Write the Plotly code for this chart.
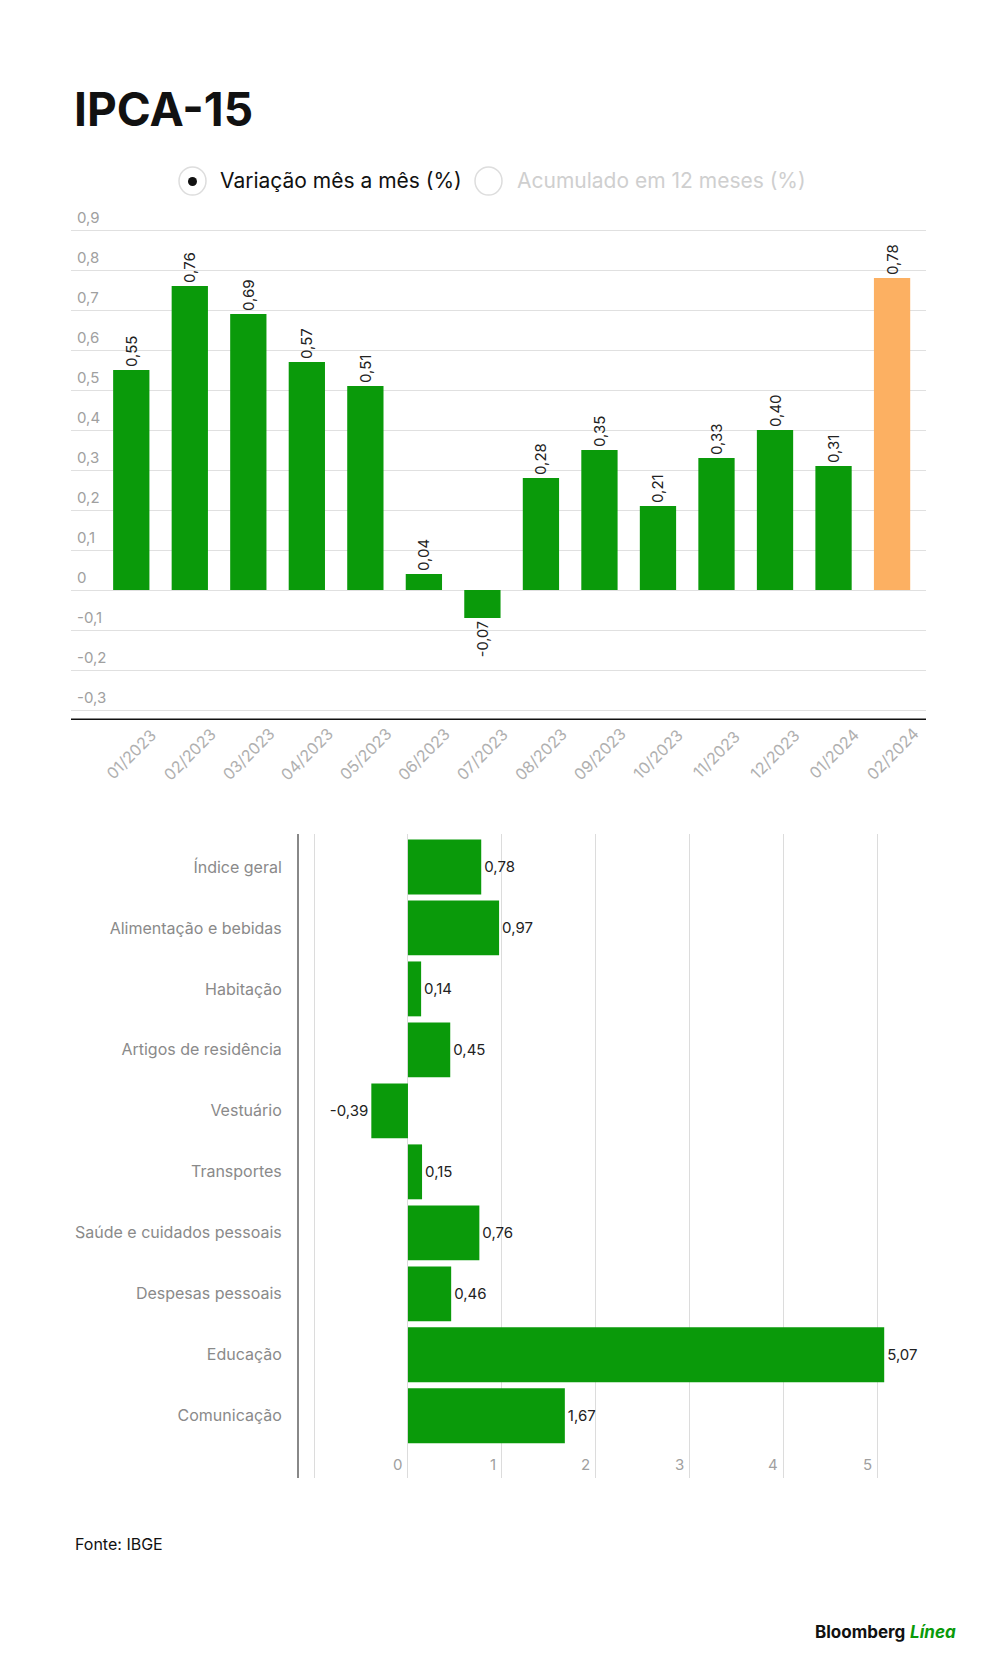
import plotly.graph_objects as go

meses = ["01/2023", "02/2023", "03/2023", "04/2023", "05/2023", "06/2023", "07/2023",
         "08/2023", "09/2023", "10/2023", "11/2023", "12/2023", "01/2024", "02/2024"]
variacao = [0.55, 0.76, 0.69, 0.57, 0.51, 0.04, -0.07, 0.28, 0.35, 0.21, 0.33, 0.40, 0.31, 0.78]

grupos = ["Índice geral", "Alimentação e bebidas", "Habitação", "Artigos de residência",
          "Vestuário", "Transportes", "Saúde e cuidados pessoais", "Despesas pessoais",
          "Educação", "Comunicação"]
grupo_var = [0.78, 0.97, 0.14, 0.45, -0.39, 0.15, 0.76, 0.46, 5.07, 1.67]

y_ticks = [0.9, 0.8, 0.7, 0.6, 0.5, 0.4, 0.3, 0.2, 0.1, 0, -0.1, -0.2, -0.3]
x_ticks = [0, 1, 2, 3, 4, 5]

GREEN = "#0a9a0a"
ORANGE = "#fcb062"
GRAY = "#a0a0a0"
H = 1674
DX = -0.008  # small global nudge (paper units)
DY = -6      # px


def br(v):
    return f"{v:.2f}".replace(".", ",")


def py(px):
    return 1 - (px + DY) / H


def ydom(top_px, bot_px):
    return [py(bot_px), py(top_px)]


fig = go.Figure()

colors = [GREEN] * (len(meses) - 1) + [ORANGE]
fig.add_trace(go.Bar(
    x=list(range(len(meses))), y=variacao, marker=dict(color=colors, line=dict(width=0)),
    text=[br(v) for v in variacao], textposition="outside", textangle=-90,
    textfont=dict(size=15, color="#222"), cliponaxis=False, width=0.62,
    xaxis="x", yaxis="y", hoverinfo="skip",
))

fig.add_trace(go.Bar(
    y=list(range(len(grupos))), x=grupo_var, orientation="h",
    marker=dict(color=GREEN, line=dict(width=0)),
    text=[br(v) for v in grupo_var], textposition="outside",
    textfont=dict(size=15, color="#222"), cliponaxis=False, width=0.9,
    xaxis="x2", yaxis="y2", hoverinfo="skip",
))

annotations = []
for v in y_ticks:
    lab = "0" if v == 0 else f"{v:.1f}".replace(".", ",")
    annotations.append(dict(x=0.075 + DX, y=v, xref="paper", yref="y", text=lab, showarrow=False,
                            xanchor="left", yanchor="bottom", yshift=1,
                            font=dict(size=15, color=GRAY)))
for i, m in enumerate(meses):
    annotations.append(dict(x=i, y=-0.325, xref="x", yref="y", text=m, showarrow=False,
                            textangle=-45, xanchor="center", yanchor="middle", yshift=-34,
                            font=dict(size=16, color="#b0b0b0")))
for v in x_ticks:
    annotations.append(dict(x=v, y=9.8, xref="x2", yref="y2", text=str(v), showarrow=False,
                            xanchor="right", xshift=-4, font=dict(size=15, color=GRAY)))

annotations += [
    dict(x=0.072 + DX, y=py(107), xref="paper", yref="paper", text="<b>IPCA-15</b>", showarrow=False,
         xanchor="left", yanchor="middle", font=dict(size=46, color="#111", family="Inter")),
    dict(x=0.218 + DX, y=py(179), xref="paper", yref="paper", text="Variação mês a mês (%)", showarrow=False,
         xanchor="left", yanchor="middle", font=dict(size=21, color="#111")),
    dict(x=0.515 + DX, y=py(179), xref="paper", yref="paper", text="Acumulado em 12 meses (%)", showarrow=False,
         xanchor="left", yanchor="middle", font=dict(size=21, color="#cfcfcf")),
    dict(x=0.073 + DX, y=py(1542), xref="paper", yref="paper", text="Fonte: IBGE", showarrow=False,
         xanchor="left", yanchor="middle", font=dict(size=16, color="#111")),
    dict(x=0.958 + DX, y=py(1630), xref="paper", yref="paper",
         text="<b>Bloomberg</b> <b><i><span style='color:#0a9a0a'>Línea</span></i></b>", showarrow=False,
         xanchor="right", yanchor="middle", font=dict(size=17, color="#111")),
]

shapes = [
    dict(type="circle", xref="paper", yref="paper", x0=0.179 + DX, x1=0.206 + DX,
         y0=py(193), y1=py(165), line=dict(color="#ddd", width=1.5), fillcolor="white"),
    dict(type="circle", xref="paper", yref="paper", x0=0.188 + DX, x1=0.197 + DX,
         y0=py(184), y1=py(175), line=dict(width=0), fillcolor="#111"),
    dict(type="circle", xref="paper", yref="paper", x0=0.475 + DX, x1=0.502 + DX,
         y0=py(193), y1=py(165), line=dict(color="#ddd", width=1.5), fillcolor="white"),
    dict(type="line", xref="paper", yref="y", x0=0.071 + DX, x1=0.926 + DX, y0=-0.325, y1=-0.325,
         line=dict(color="#111", width=3)),
]

fig.update_layout(
    width=1000, height=H, margin=dict(l=0, r=0, t=0, b=0),
    paper_bgcolor="white", plot_bgcolor="white", showlegend=False,
    font=dict(family="Inter", color="#222"),
    annotations=annotations, shapes=shapes,
    xaxis=dict(domain=[0.071 + DX, 0.926 + DX], range=[-1.03, 13.58], showticklabels=False,
               showgrid=False, zeroline=False, fixedrange=True),
    yaxis=dict(domain=ydom(220, 718), range=[-0.325, 0.92], tickvals=y_ticks,
               showticklabels=False, gridcolor="#e0e0e0", gridwidth=1, zeroline=False),
    xaxis2=dict(domain=[0.299 + DX, 0.934 + DX], range=[-1.16, 5.6], anchor="y2", tickvals=[-1] + x_ticks,
                showticklabels=False, gridcolor="#dcdcdc", zeroline=False),
    yaxis2=dict(domain=ydom(832, 1476), range=[10.02, -0.54], anchor="x2",
                tickvals=list(range(len(grupos))), ticktext=grupos, showgrid=False,
                showline=True, linecolor="#888", linewidth=2, ticks="", ticklabelstandoff=12,
                tickfont=dict(size=16, color="#8a8a8a"), zeroline=False),
)

fig.write_html("out.html")
